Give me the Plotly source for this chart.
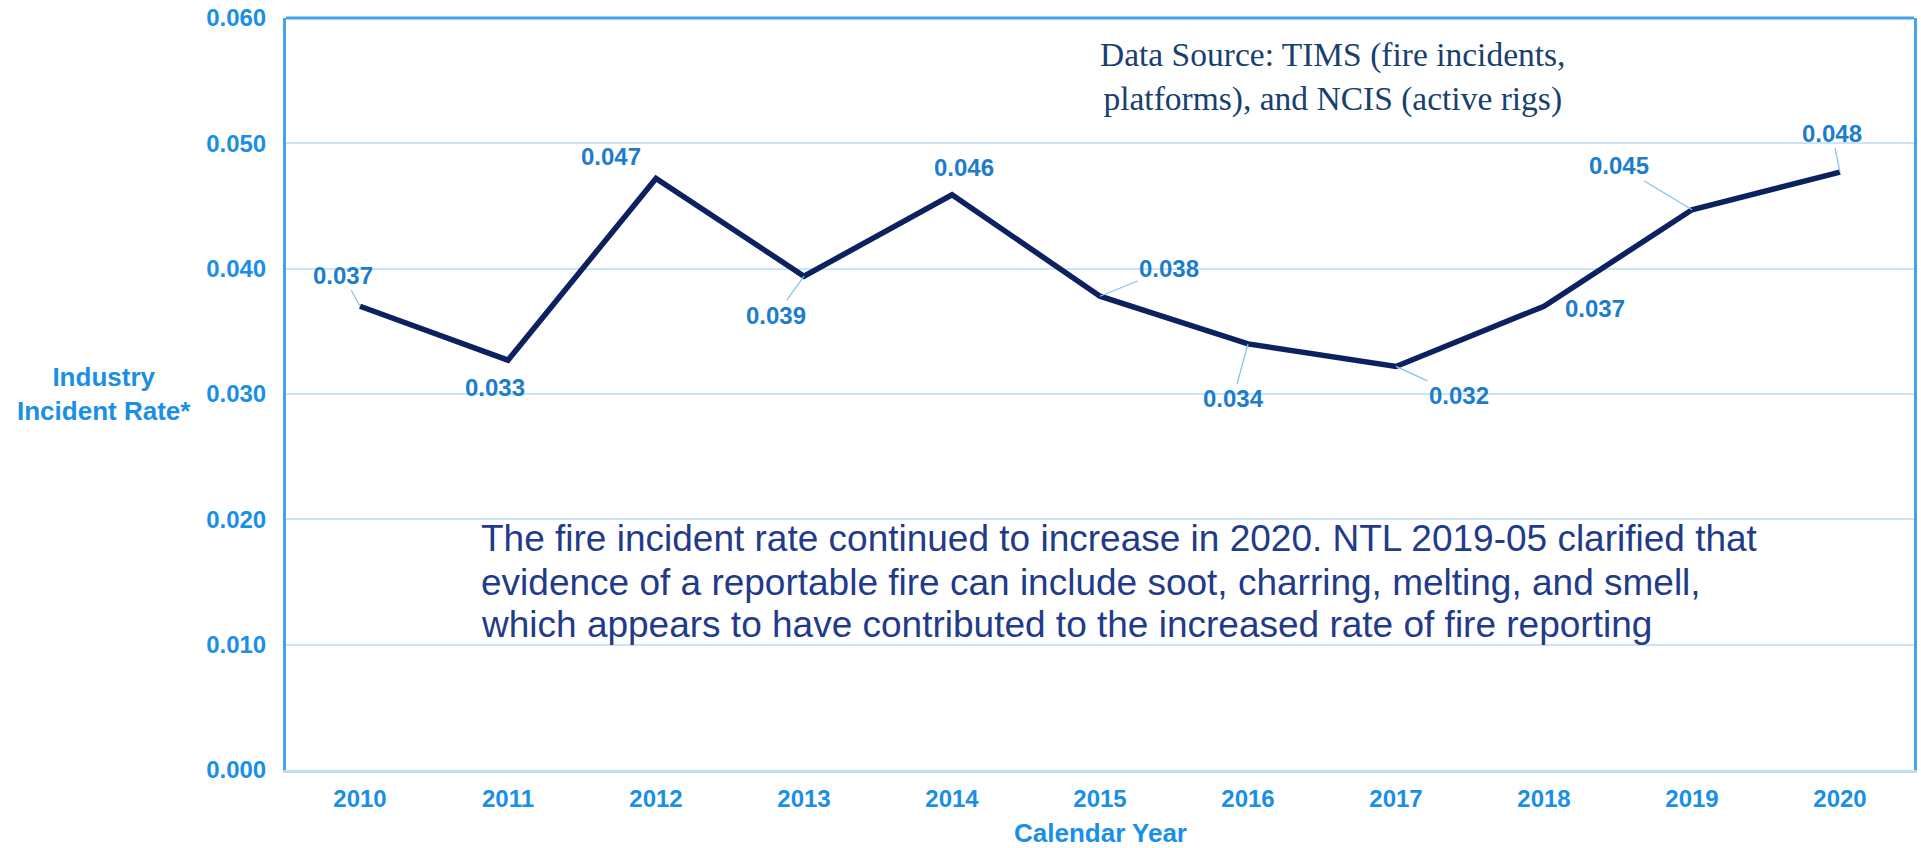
import plotly.graph_objects as go

# ---- data ----
years = ["2010", "2011", "2012", "2013", "2014", "2015", "2016", "2017", "2018", "2019", "2020"]
incident_rate = [0.0370, 0.0327, 0.0472, 0.0394, 0.0459, 0.0378, 0.0340, 0.0322, 0.0370, 0.0447, 0.0477]
y_ticks = [0.0, 0.01, 0.02, 0.03, 0.04, 0.05, 0.06]

# label placement (pixel offsets from the point) and whether a leader line is drawn
label_dx = [-17, -13, -45, -28, 12, 69, -15, 63, 51, -73, -8]
label_dy = [-31, 27, -22, 39, -27, -28, 55, 29, 2, -44, -39]
label_leader = [True, False, False, True, False, True, True, True, False, True, True]

note_lines = [
    "The fire incident rate continued to increase in 2020. NTL 2019-05 clarified that",
    "evidence of a reportable fire can include soot, charring, melting, and smell,",
    "which appears to have contributed to the increased rate of fire reporting",
]
source_text = "Data Source: TIMS (fire incidents,<br>platforms), and NCIS (active rigs)"

# ---- styles ----
SANS = "Liberation Sans, Arial, sans-serif"
SERIF = "Liberation Serif, Times New Roman, serif"
TICK_BLUE = "#1a8fe6"
LABEL_BLUE = "#1c7dcc"
LINE_NAVY = "#0b2160"
LEADER = "#82c4f2"

fig = go.Figure()
fig.add_trace(go.Scatter(
    x=years, y=incident_rate, mode="lines",
    line=dict(color=LINE_NAVY, width=5.5),
    hoverinfo="x+y", showlegend=False,
))

annotations = []
for i, (v, dx, dy, lead) in enumerate(zip(incident_rate, label_dx, label_dy, label_leader)):
    annotations.append(dict(
        x=i, y=v, xref="x", yref="y",
        text=f"{v:.3f}", showarrow=True, ax=dx, ay=dy,
        arrowhead=0, arrowwidth=1.3, standoff=0, startstandoff=0,
        arrowcolor=LEADER if lead else "rgba(0,0,0,0)",
        font=dict(family=SANS, size=24, color=LABEL_BLUE, weight="bold"),
    ))

# y axis title (horizontal)
annotations.append(dict(
    x=-0.1116, y=0.5, xref="paper", yref="paper", xanchor="center", yanchor="middle",
    text="<b>Industry<br>Incident Rate*</b>", showarrow=False, align="center",
    font=dict(family=SANS, size=26, color=TICK_BLUE),
))
# x axis title
annotations.append(dict(
    x=0.5, y=-0.0837, xref="paper", yref="paper", xanchor="center", yanchor="middle",
    text="<b>Calendar Year</b>", showarrow=False,
    font=dict(family=SANS, size=26, color=TICK_BLUE),
))
# data source
annotations.append(dict(
    x=0.643, y=0.921, xref="paper", yref="paper", xanchor="center", yanchor="middle",
    text=source_text, showarrow=False, align="center",
    font=dict(family=SERIF, size=33.5, color="#18406e"),
))
# note text, one line per annotation
for line, ypos in zip(note_lines, [0.3078, 0.2487, 0.1930]):
    annotations.append(dict(
        x=0.1183, y=ypos, xref="paper", yref="paper", xanchor="left", yanchor="middle",
        text=line, showarrow=False, align="left",
        font=dict(family=SANS, size=37, color="#1f3b8a"),
    ))

fig.update_layout(
    width=1921, height=848,
    margin=dict(l=286, r=4, t=17, b=78, pad=0),
    paper_bgcolor="white", plot_bgcolor="white",
    annotations=annotations,
    xaxis=dict(
        type="category", range=[-0.5, len(years) - 0.5], autorange=False,
        showgrid=False, zeroline=False,
        showline=True, linecolor="#bddcf6", linewidth=3,
        ticks="", ticklabelstandoff=5,
        tickfont=dict(family=SANS, size=24, color=TICK_BLUE, weight="bold"),
    ),
    yaxis=dict(
        range=[0, 0.06], autorange=False, tickvals=y_ticks, tickformat=".3f",
        showgrid=True, gridcolor="#cbe4f8", gridwidth=2,
        zeroline=False,
        showline=True, linecolor="#4aa3e8", linewidth=3, mirror=True,
        ticks="", ticklabelstandoff=12,
        tickfont=dict(family=SANS, size=24, color=TICK_BLUE, weight="bold"),
    ),
    shapes=[dict(type="line", xref="paper", yref="paper", x0=0, x1=1, y0=1, y1=1,
                 line=dict(color="#4aa3e8", width=3), layer="above")],
)

fig.write_html("out.html", config={"displayModeBar": False},
               post_script="document.body.style.margin='0';document.body.style.overflow='hidden';")
